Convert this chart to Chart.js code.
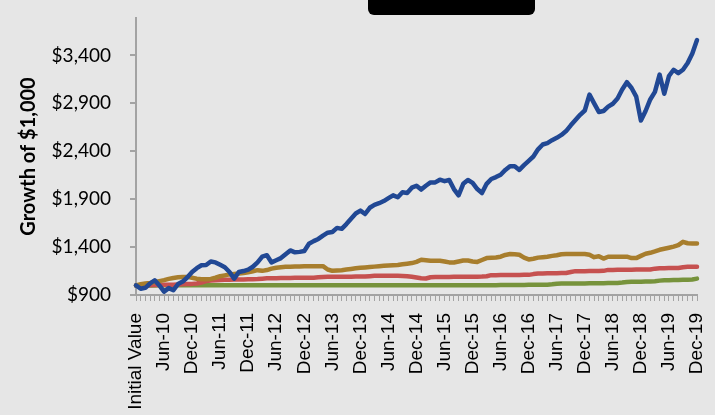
<!DOCTYPE html>
<html>
<head>
<meta charset="utf-8">
<script src="https://cdn.jsdelivr.net/npm/chart.js@4.4.0/dist/chart.umd.min.js"></script>
<style>
  body { margin: 0; background: #e6e6e6; }
  canvas { display: block; background: #e6e6e6; }
</style>
</head>
<body>
<canvas id="grafico" width="715" height="415"></canvas>
<script>
// --- datos ---
const meses = ["Jan", "Feb", "Mar", "Apr", "May", "Jun", "Jul", "Aug", "Sep", "Oct", "Nov", "Dec"];
const anios = ["10", "11", "12", "13", "14", "15", "16", "17", "18", "19"];

const etiquetas = ["Initial Value"];
anios.forEach(a => meses.forEach(m => etiquetas.push(m + "-" + a)));

const ticksY = [900, 1400, 1900, 2400, 2900, 3400];

const serieAzul = [
  1000, 965, 975, 1020, 1054, 1000, 935, 972, 950, 1015,
  1040, 1085, 1140, 1180, 1210, 1212, 1250, 1240, 1215, 1190,
  1140, 1071, 1140, 1150, 1165, 1195, 1240, 1300, 1315, 1240,
  1262, 1285, 1325, 1365, 1345, 1350, 1359, 1435, 1462, 1485,
  1520, 1550, 1557, 1600, 1590, 1640, 1695, 1750, 1780, 1745,
  1810, 1840, 1858, 1880, 1910, 1940, 1920, 1972, 1965, 2020,
  2040, 2000, 2040, 2075, 2075, 2103, 2088, 2100, 2005, 1940,
  2060, 2100, 2070, 2005, 1964, 2060, 2110, 2130, 2155, 2205,
  2244, 2244, 2205, 2255, 2300, 2345, 2420, 2470, 2485, 2515,
  2540, 2570, 2610, 2670, 2725, 2780, 2825, 2990, 2900, 2810,
  2820, 2865, 2895, 2950, 3045, 3120, 3060, 2970, 2720, 2820,
  2940, 3020, 3200, 3000, 3185, 3250, 3215, 3250, 3320, 3420,
  3560
];

const serieDorada = [
  1000, 1012, 1020, 1026, 1035, 1045, 1055, 1068, 1078, 1085,
  1089, 1089, 1080, 1070, 1065, 1065, 1068, 1080, 1096, 1105,
  1115, 1120, 1124, 1130, 1138, 1148, 1159, 1152, 1160, 1175,
  1185, 1190, 1194, 1196, 1198, 1198, 1200, 1200, 1201, 1201,
  1201, 1166, 1152, 1155, 1159, 1165, 1172, 1178, 1185, 1188,
  1192, 1196, 1200, 1204, 1207, 1210, 1213, 1220, 1226, 1233,
  1246, 1268, 1262, 1257, 1257, 1257, 1250, 1240, 1239, 1250,
  1260, 1260, 1250, 1245, 1265, 1285, 1288, 1292, 1300, 1318,
  1327, 1325, 1320, 1290, 1271, 1278, 1290, 1295, 1300, 1308,
  1315, 1325, 1327, 1327, 1327, 1327, 1327, 1320, 1295, 1305,
  1280, 1299, 1300, 1300, 1300, 1300, 1285, 1285, 1308, 1330,
  1340, 1355, 1372, 1382, 1393, 1405, 1420, 1455, 1440, 1438,
  1437
];

const serieRoja = [
  1000, 1001, 1002, 1003, 1004, 1005, 1006, 1007, 1008, 1010,
  1012, 1014, 1016, 1020, 1030, 1045, 1052, 1055, 1056, 1058,
  1060, 1061, 1062, 1063, 1064, 1065, 1066, 1070, 1074, 1075,
  1076, 1077, 1078, 1078, 1079, 1079, 1080, 1080, 1081, 1085,
  1089, 1090, 1090, 1090, 1091, 1091, 1091, 1092, 1092, 1092,
  1096, 1100, 1100, 1100, 1100, 1100, 1100, 1099, 1096, 1090,
  1082, 1075, 1072, 1085, 1089, 1089, 1089, 1089, 1090, 1090,
  1090, 1091, 1091, 1091, 1092, 1095, 1107, 1107, 1108, 1108,
  1108, 1109, 1109, 1110, 1110, 1118, 1124, 1125, 1126, 1127,
  1128, 1129, 1130, 1140, 1149, 1149, 1149, 1150, 1150, 1150,
  1152, 1162, 1162, 1163, 1163, 1164, 1164, 1165, 1165, 1166,
  1166, 1175, 1180, 1180, 1181, 1181, 1182, 1190, 1194, 1194,
  1195
];

const serieVerde = [
  1000, 1000, 1000, 1000, 1000, 1001, 1001, 1001, 1001, 1001,
  1001, 1001, 1001, 1001, 1001, 1001, 1001, 1001, 1001, 1001,
  1001, 1001, 1001, 1001, 1001, 1001, 1001, 1001, 1001, 1001,
  1002, 1002, 1002, 1002, 1002, 1002, 1002, 1002, 1002, 1002,
  1002, 1002, 1002, 1002, 1002, 1002, 1002, 1002, 1002, 1002,
  1002, 1002, 1002, 1002, 1002, 1002, 1002, 1002, 1002, 1002,
  1002, 1002, 1002, 1002, 1002, 1002, 1002, 1002, 1002, 1002,
  1002, 1002, 1003, 1003, 1003, 1003, 1003, 1003, 1004, 1004,
  1004, 1004, 1005, 1005, 1006, 1006, 1007, 1007, 1008, 1012,
  1018, 1019, 1019, 1020, 1020, 1021, 1021, 1022, 1022, 1023,
  1023, 1024, 1025, 1026, 1030, 1036, 1037, 1038, 1039, 1040,
  1041, 1044, 1050, 1054, 1055, 1056, 1057, 1058, 1059, 1062,
  1071
];

// --- estilo ---
const gris = "#a3a3a3";

function linea(datos, color) {
  return {
    data: datos,
    borderColor: color,
    backgroundColor: color,
    borderWidth: 4.5,
    pointRadius: 0,
    tension: 0,
    fill: false,
    clip: false,
    borderJoinStyle: "round",
    borderCapStyle: "round"
  };
}

// recuadro negro de la parte superior
const recuadroNegro = {
  id: "recuadroNegro",
  afterDraw(chart) {
    const ctx = chart.ctx;
    ctx.save();
    ctx.fillStyle = "#000";
    ctx.beginPath();
    ctx.roundRect(368, -8, 167, 23, 6);
    ctx.fill();
    ctx.restore();
  }
};

new Chart(document.getElementById("grafico"), {
  type: "line",
  data: {
    labels: etiquetas,
    datasets: [
      linea(serieAzul, "#214894"),
      linea(serieDorada, "#a87e2d"),
      linea(serieRoja, "#c65150"),
      linea(serieVerde, "#77933c")
    ]
  },
  options: {
    responsive: false,
    animation: false,
    layout: { padding: { top: 18, right: 18, left: 0, bottom: 0 } },
    plugins: {
      legend: { display: false },
      tooltip: { enabled: false }
    },
    scales: {
      x: {
        offset: false,
        grid: { drawOnChartArea: false, drawTicks: true, tickLength: 6, color: gris, lineWidth: 1 },
        border: { color: gris, width: 2 },
        ticks: {
          autoSkip: false,
          maxRotation: 90,
          minRotation: 90,
          padding: 12,
          color: "#000",
          font: { family: "'Liberation Sans', Arial, sans-serif", size: 19 },
          callback: (v, i) => (i % 6 === 0 ? etiquetas[i] : "")
        },
        afterFit: s => {
          s.height = 120;
          s.paddingLeft = 0;
          s.paddingRight = 0;
        }
      },
      y: {
        min: 900,
        max: 3790,
        grid: { drawOnChartArea: false, drawTicks: true, tickLength: 6, color: gris, lineWidth: 2 },
        border: { color: gris, width: 2 },
        afterBuildTicks: s => { s.ticks = ticksY.map(v => ({ value: v })); },
        ticks: {
          padding: 19,
          color: "#000",
          font: { family: "Lato, sans-serif", size: 19 },
          callback: v => "$" + v.toLocaleString("en-US")
        },
        title: {
          display: true,
          text: "Growth of $1,000",
          color: "#000",
          padding: { top: 17, bottom: 0 },
          font: { family: "Lato, sans-serif", size: 20, weight: "bold", lineHeight: 1.2 }
        },
        afterFit: s => {
          s.width = 136;
          s.paddingTop = 0;
          s.paddingBottom = 0;
        }
      }
    }
  },
  plugins: [recuadroNegro]
});
</script>
</body>
</html>
